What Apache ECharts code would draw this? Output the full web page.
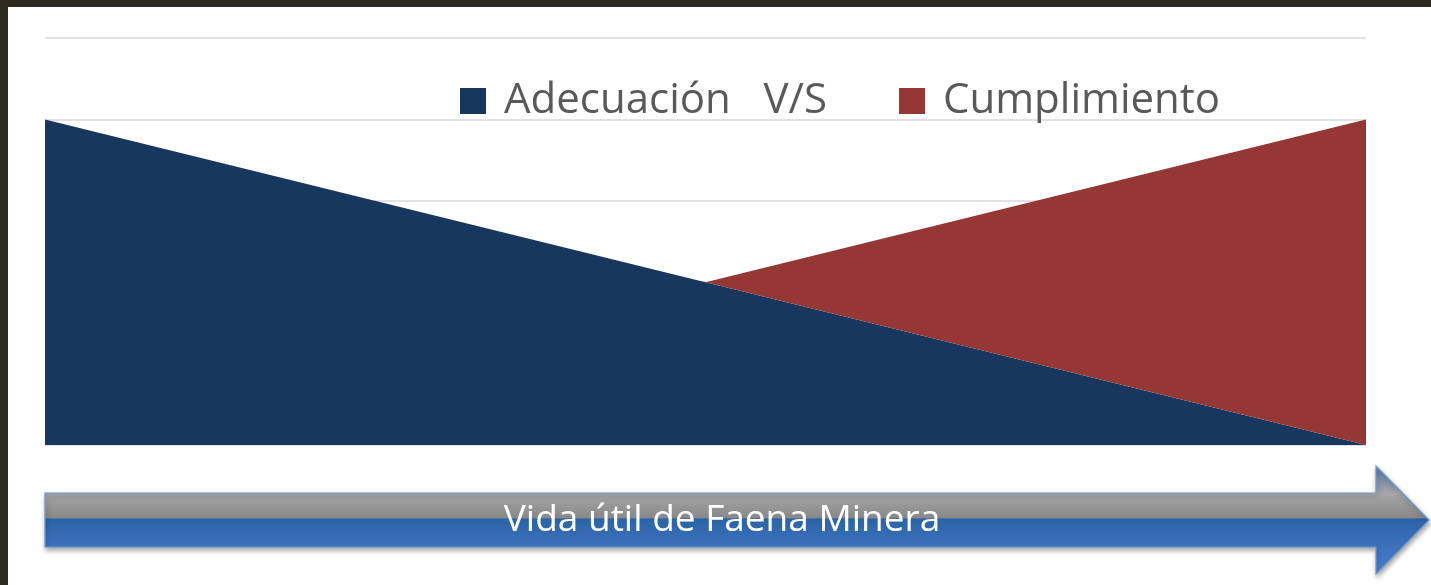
<!DOCTYPE html>
<html>
<head>
<meta charset="utf-8">
<script src="https://cdn.jsdelivr.net/npm/echarts@6/dist/echarts.min.js"></script>
<style>
html,body{margin:0;padding:0;background:#fff;}
#c{width:1431px;height:585px;}
</style>
</head>
<body>
<div id="c"></div>
<script>
const categories = ['Inicio', 'Medio', 'Fin'];
const adecuacion = [4, 2, 0];
const cumplimiento = ['-', 0, 4];
const yTicks = [0, 1, 2, 3, 4, 5];
const seriesNames = ['Adecuación   V/S', 'Cumplimiento'];
const arrowLabel = 'Vida útil de Faena Minera';

const chart = echarts.init(document.getElementById('c'), null, {renderer: 'canvas'});
chart.setOption({
  backgroundColor: '#ffffff',
  animation: false,
  textStyle: {fontFamily: '"Open Sans", sans-serif'},
  legend: {
    left: 460,
    top: 80,
    padding: 0,
    itemWidth: 26,
    itemHeight: 26,
    itemGap: 72,
    icon: 'rect',
    textStyle: {fontSize: 42, color: '#595959', fontFamily: '"Open Sans", sans-serif', padding: [0, 0, 0, 13], lineHeight: 26},
    data: seriesNames
  },
  grid: {left: 45, right: 65, top: 38, bottom: 140, containLabel: false},
  xAxis: {
    type: 'category',
    data: categories,
    boundaryGap: false,
    axisLine: {show: false},
    axisTick: {show: false},
    axisLabel: {show: false},
    splitLine: {show: false}
  },
  yAxis: {
    type: 'value',
    min: yTicks[0],
    max: yTicks[yTicks.length - 1],
    interval: 1,
    axisLine: {show: false},
    axisTick: {show: false},
    axisLabel: {show: false},
    splitLine: {show: true, lineStyle: {color: '#d9d9d9', width: 1.5}}
  },
  series: [
    {
      name: seriesNames[0],
      type: 'line',
      stack: 'total',
      data: adecuacion,
      symbol: 'none',
      lineStyle: {width: 0, color: '#17375e'},
      itemStyle: {color: '#17375e'},
      areaStyle: {color: '#17375e', opacity: 1}
    },
    {
      name: seriesNames[1],
      type: 'line',
      stack: 'total',
      data: cumplimiento,
      symbol: 'none',
      lineStyle: {width: 0, color: '#953735'},
      itemStyle: {color: '#953735'},
      areaStyle: {color: '#953735', opacity: 1}
    }
  ],
  graphic: [
    {type: 'rect', left: 0, top: 0, shape: {width: 1431, height: 7}, style: {fill: '#2e2a20'}, z: 100},
    {type: 'rect', left: 0, top: 0, shape: {width: 8, height: 585}, style: {fill: '#2e2a20'}, z: 100},
    {
      type: 'polygon',
      z: 50,
      shape: {points: [[45, 493], [1376, 493], [1376, 466], [1429, 520], [1376, 574], [1376, 547], [45, 547]]},
      style: {
        fill: new echarts.graphic.LinearGradient(0, 0, 0, 1, [
          {offset: 0, color: '#5a7aa6'},
          {offset: 0.22, color: '#9a9ea6'},
          {offset: 0.26, color: '#a6a6a6'},
          {offset: 0.48, color: '#888888'},
          {offset: 0.49, color: '#2b63a8'},
          {offset: 0.75, color: '#3d72bb'},
          {offset: 1, color: '#4a80cc'}
        ]),
        stroke: '#6a98d4',
        lineWidth: 1.2,
        shadowBlur: 5,
        shadowOffsetX: 1,
        shadowOffsetY: 3,
        shadowColor: 'rgba(0,0,0,0.35)'
      }
    },
    {
      type: 'text',
      z: 60,
      x: 722,
      y: 520,
      style: {
        text: arrowLabel,
        fill: '#ffffff',
        font: '37px "Open Sans", sans-serif',
        textAlign: 'center',
        textVerticalAlign: 'middle'
      }
    }
  ]
});
</script>
</body>
</html>
